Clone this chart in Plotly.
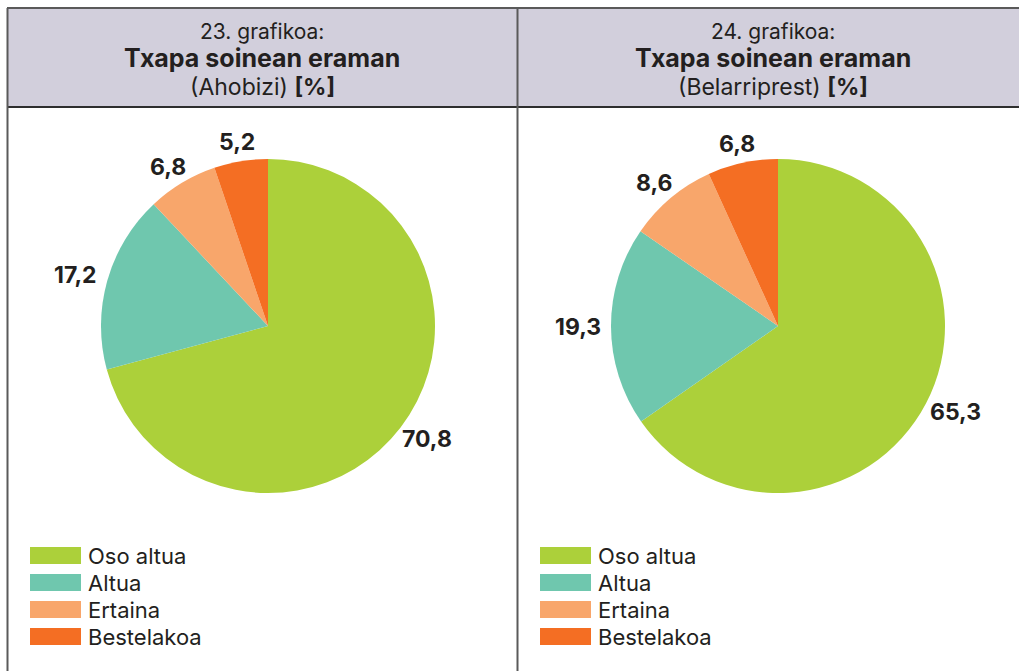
import math
import plotly.graph_objects as go

W, H = 1019, 671

categories = ["Oso altua", "Altua", "Ertaina", "Bestelakoa"]
values_ahobizi = [70.8, 17.2, 6.8, 5.2]
values_belarriprest = [65.3, 19.3, 8.6, 6.8]
colors = ["#acd03a", "#6fc7ae", "#f8a66b", "#f46e23"]

chart_numbers = ["23. grafikoa:", "24. grafikoa:"]
chart_title = "Txapa soinean eraman"
chart_subtitles = ["Ahobizi", "Belarriprest"]

FONT = "Inter"
DARK = "#231f20"


def px_x(x):
    return x / W


def px_y(y):
    return 1 - y / H


fig = go.Figure()

centers = [(268, 326), (778, 326)]
R = 167
annotations = []
for (cx, cy), vals in zip(centers, [values_ahobizi, values_belarriprest]):
    fig.add_trace(go.Pie(
        labels=categories,
        values=vals,
        sort=False,
        direction="clockwise",
        rotation=0,
        marker=dict(colors=colors, line=dict(width=0)),
        textinfo="none",
        showlegend=False,
        hoverinfo="label+value",
        automargin=False,
        domain=dict(x=[px_x(cx - R), px_x(cx + R)],
                    y=[px_y(cy + R), px_y(cy - R)]),
    ))
    # outside value labels, placed at each slice's mid-angle
    total = sum(vals)
    cum = 0.0
    for v in vals:
        mid = (cum + v / 2) / total * 2 * math.pi
        cum += v
        dx, dy = math.sin(mid), -math.cos(mid)
        txt = f"{v:.1f}".replace(".", ",")
        hw, hh, gap = 6.2 * len(txt), 11, 8
        lx = cx + dx * (R + gap) + dx * hw
        ly = cy + dy * (R + gap) + dy * hh
        annotations.append(dict(x=px_x(lx), y=px_y(ly), xref="paper", yref="paper",
                                text="<b>" + txt + "</b>", showarrow=False,
                                font=dict(family=FONT, size=23, color=DARK),
                                xanchor="center", yanchor="middle"))

shapes = []
shapes.append(dict(type="rect", xref="paper", yref="paper",
                   x0=px_x(7), x1=px_x(1030), y0=px_y(107), y1=px_y(8),
                   fillcolor="#d2cfdc", line=dict(width=0), layer="below"))
line_col = "#5a5a5a"
shapes.append(dict(type="line", xref="paper", yref="paper",
                   x0=px_x(7), x1=px_x(1030), y0=px_y(8), y1=px_y(8),
                   line=dict(color=line_col, width=2)))
shapes.append(dict(type="line", xref="paper", yref="paper",
                   x0=px_x(7), x1=px_x(1030), y0=px_y(107), y1=px_y(107),
                   line=dict(color="#2e2e2e", width=2)))
for xv in [7.5, 517.5]:
    shapes.append(dict(type="line", xref="paper", yref="paper",
                       x0=px_x(xv), x1=px_x(xv), y0=px_y(8), y1=px_y(680),
                       line=dict(color=line_col, width=2)))

header_cx = [262, 773]
for i, hx in enumerate(header_cx):
    annotations.append(dict(x=px_x(hx), y=px_y(31), xref="paper", yref="paper",
                            text=chart_numbers[i], showarrow=False,
                            font=dict(family=FONT, size=21, color=DARK),
                            xanchor="center", yanchor="middle"))
    annotations.append(dict(x=px_x(hx), y=px_y(58), xref="paper", yref="paper",
                            text="<b>" + chart_title + "</b>", showarrow=False,
                            font=dict(family=FONT, size=25, color=DARK),
                            xanchor="center", yanchor="middle"))
    annotations.append(dict(x=px_x(hx), y=px_y(87), xref="paper", yref="paper",
                            text="(" + chart_subtitles[i] + ") <b>[%]</b>", showarrow=False,
                            font=dict(family=FONT, size=23, color=DARK),
                            xanchor="center", yanchor="middle"))

legend_x = [30, 540]
for lx in legend_x:
    for j, (cat, col) in enumerate(zip(categories, colors)):
        y0 = 547 + j * 27
        shapes.append(dict(type="rect", xref="paper", yref="paper",
                           x0=px_x(lx), x1=px_x(lx + 51), y0=px_y(y0 + 17), y1=px_y(y0),
                           fillcolor=col, line=dict(width=0)))
        annotations.append(dict(x=px_x(lx + 56), y=px_y(y0 + 8.5), xref="paper", yref="paper",
                                text=cat, showarrow=False,
                                font=dict(family=FONT, size=22, color=DARK),
                                xanchor="left", yanchor="middle"))

fig.update_layout(
    width=W, height=H,
    margin=dict(l=0, r=0, t=0, b=0),
    paper_bgcolor="white",
    plot_bgcolor="white",
    shapes=shapes,
    annotations=annotations,
    showlegend=False,
)

fig.write_html("out.html", config={"displayModeBar": False},
               post_script="document.body.style.margin='0';")
